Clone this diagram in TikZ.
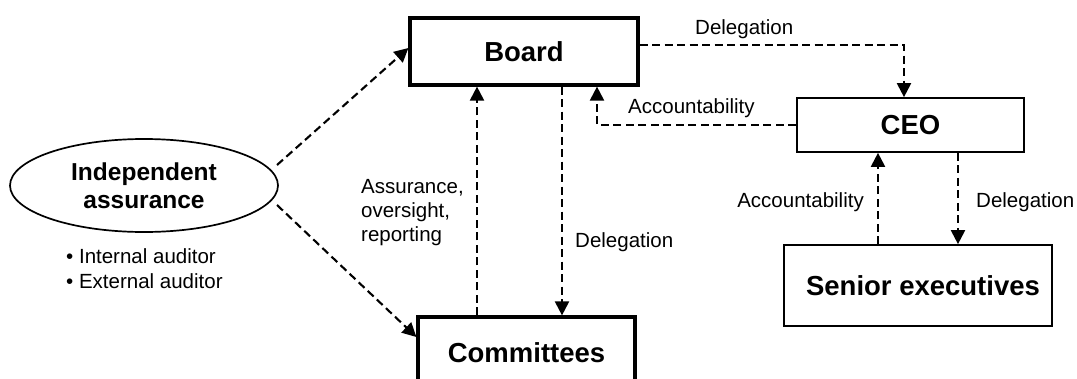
\documentclass[tikz,border=0pt]{standalone}
\usepackage{fontspec}
\setmainfont{Liberation Sans}
\usetikzlibrary{arrows.meta,shapes.geometric}
\begin{document}
\begin{tikzpicture}[x=1pt,y=-1pt,
  thickbox/.style={draw,line width=3.2pt,inner sep=0pt,font=\fontsize{27.5}{30}\selectfont\bfseries},
  thinbox/.style={draw,line width=1.7pt,inner sep=0pt,font=\fontsize{27.5}{30}\selectfont\bfseries},
  conn/.style={line width=2.1pt,dash pattern=on 8pt off 4.5pt,-{Triangle[length=14pt,width=14pt]}},
  lbl/.style={inner sep=0pt,font=\fontsize{20.5}{24}\selectfont}
]
\useasboundingbox (0,0) rectangle (1077,378);
\fill[white] (0,0) rectangle (1077,378);

% boxes
\node[thickbox,minimum width=228pt,minimum height=67pt] (board) at (524,51.5) {Board};
\node[thinbox,minimum width=227pt,minimum height=54pt] (ceo) at (910.5,125) {CEO};
\node[thinbox,minimum width=268pt,minimum height=81pt] (senior) at (918,285.5) {\hspace*{10pt}Senior executives};
\node[thickbox,minimum width=217pt,minimum height=72pt] (comm) at (526.5,353) {Committees};
\node[ellipse,draw,line width=1.7pt,inner sep=0pt,minimum width=268pt,minimum height=93pt,
      align=center,font=\fontsize{24.5}{27.6}\selectfont\bfseries] (ell) at (144,185.5) {Independent\\assurance};

% bullet list
\node[lbl,anchor=base west] (b1) at (66,263) {• Internal auditor};
\node[lbl,anchor=base west] (b2) at (66,288) {• External auditor};

% connector labels
\node[lbl,anchor=base west] (ldel1) at (695,34) {Delegation};
\node[lbl,anchor=base west] (lacc1) at (628,113) {Accountability};
\node[lbl,anchor=north west,align=left,font=\fontsize{20.5}{24.3}\selectfont] (lass) at (361,179) {Assurance,\\oversight,\\reporting};
\node[lbl,anchor=base west] (ldel2) at (575,247) {Delegation};
\node[lbl,anchor=base east] (lacc2) at (864,207) {Accountability};
\node[lbl,anchor=base west] (ldel3) at (976,207) {Delegation};

% connectors
\coordinate (e1) at (277,165);
\coordinate (e2) at (277,205);
\draw[conn] (e1) -- ([yshift=3.5pt]board.west);
\draw[conn] (e2) -- ([yshift=16pt]comm.west);
\draw[conn] ([yshift=6.5pt]board.east) -| ([xshift=-6.5pt]ceo.north);
\draw[conn] (ceo.west) -| ([xshift=73pt]board.south);
\draw[conn] ([xshift=-49.5pt]comm.north) -- ([xshift=-49.5pt]comm.north |- board.south);
\draw[conn] ([xshift=38pt]board.south) -- ([xshift=38pt]board.south |- comm.north);
\draw[conn] ([xshift=-40pt]senior.north) -- ([xshift=-40pt]senior.north |- ceo.south);
\draw[conn] ([xshift=47.5pt]ceo.south) -- ([xshift=47.5pt]ceo.south |- senior.north);
\end{tikzpicture}
\end{document}
